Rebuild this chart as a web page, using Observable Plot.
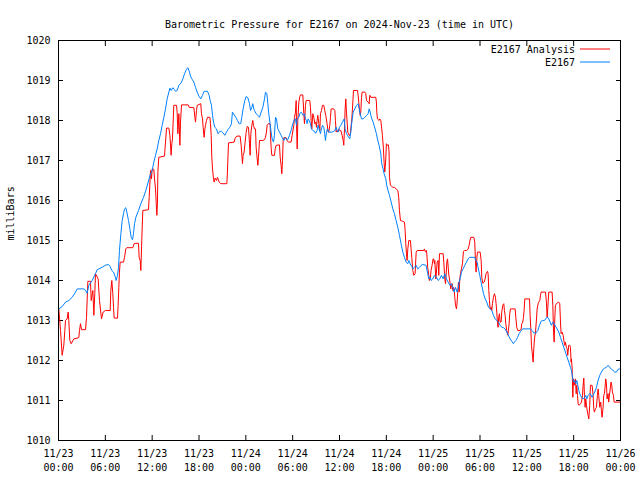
<!DOCTYPE html>
<html><head><meta charset="utf-8">
<script src="https://cdn.jsdelivr.net/npm/d3@7"></script>
<script src="https://cdn.jsdelivr.net/npm/@observablehq/plot@0.6"></script>
<style>
body{margin:0;background:#fff;}
#wrap{position:relative;width:640px;height:480px;}
</style></head><body><div id="wrap"></div>
<script>
const titleText = "Barometric Pressure for E2167 on 2024-Nov-23 (time in UTC)";
const yAxisLabel = "milliBars";
const seriesNames = ["E2167 Analysis", "E2167"];
const seriesColors = ["#ff0000", "#0080ff"];
const yTicks = [1010,1011,1012,1013,1014,1015,1016,1017,1018,1019,1020];
const xTickHours = [0,6,12,18,24,30,36,42,48,54,60,66,72];
const xTickLabels = ["11/23\n00:00","11/23\n06:00","11/23\n12:00","11/23\n18:00","11/24\n00:00","11/24\n06:00","11/24\n12:00","11/24\n18:00","11/25\n00:00","11/25\n06:00","11/25\n12:00","11/25\n18:00","11/26\n00:00"];

// [hours since 2024-11-23 00:00 UTC, millibars]
const analysis = [[0.04,1013.29],[0.26,1012.75],[0.47,1012.13],[0.68,1012.38],[0.81,1012.75],[0.90,1013.00],[1.11,1013.04],[1.24,1013.21],[1.32,1013.00],[1.45,1012.50],[1.62,1012.42],[1.96,1012.54],[2.60,1012.57],[2.69,1012.75],[2.82,1012.92],[2.95,1012.77],[3.46,1012.77],[3.59,1013.08],[3.76,1013.98],[4.10,1013.98],[4.19,1013.50],[4.40,1013.75],[4.53,1013.13],[4.65,1013.67],[4.74,1014.17],[5.08,1014.04],[5.25,1013.50],[5.51,1013.04],[5.72,1013.21],[6.02,1013.25],[6.62,1013.25],[6.70,1013.75],[6.83,1014.00],[6.96,1013.67],[7.05,1013.33],[7.13,1013.06],[7.56,1013.06],[7.64,1013.38],[7.73,1013.83],[7.81,1014.21],[7.90,1014.46],[8.33,1014.46],[8.46,1014.58],[8.62,1014.79],[8.75,1014.82],[9.52,1014.82],[9.69,1014.92],[9.82,1014.93],[10.25,1014.93],[10.33,1014.58],[10.46,1014.50],[10.55,1014.25],[10.68,1015.08],[10.80,1015.75],[11.53,1015.77],[11.62,1016.08],[11.79,1016.75],[11.91,1016.54],[12.00,1016.79],[12.21,1016.78],[12.30,1016.54],[12.43,1016.29],[12.51,1015.96],[12.60,1015.63],[12.68,1015.96],[12.73,1016.71],[12.85,1017.08],[13.58,1017.11],[13.71,1017.46],[13.84,1017.81],[14.14,1017.81],[14.27,1017.63],[14.43,1017.13],[14.52,1017.42],[14.60,1017.54],[14.69,1017.96],[14.77,1018.38],[15.12,1018.38],[15.20,1018.21],[15.29,1017.67],[15.42,1018.17],[15.55,1017.38],[15.63,1017.96],[15.76,1018.39],[16.61,1018.39],[16.74,1018.33],[17.34,1018.32],[17.47,1018.08],[17.55,1017.96],[17.68,1018.25],[17.77,1018.38],[18.23,1018.42],[18.32,1018.17],[18.45,1018.04],[18.53,1017.83],[18.66,1017.58],[18.75,1017.78],[18.83,1017.88],[18.96,1018.00],[19.09,1018.08],[19.39,1018.08],[19.47,1017.92],[19.56,1017.63],[19.64,1017.08],[19.73,1016.79],[19.86,1016.54],[19.94,1016.46],[20.07,1016.56],[20.24,1016.50],[20.37,1016.58],[20.58,1016.46],[20.80,1016.42],[21.57,1016.42],[21.64,1016.71],[21.78,1017.44],[22.50,1017.46],[22.63,1017.56],[22.85,1017.61],[23.27,1017.61],[23.40,1017.38],[23.57,1016.92],[23.65,1017.13],[23.78,1017.21],[23.91,1017.46],[24.04,1017.70],[24.17,1017.85],[24.34,1017.83],[24.47,1017.42],[24.55,1017.13],[24.64,1017.67],[24.77,1017.88],[24.89,1018.00],[24.98,1017.88],[25.11,1017.79],[25.24,1017.79],[25.32,1017.33],[25.41,1017.13],[25.54,1016.88],[25.62,1017.08],[25.75,1017.50],[26.18,1017.50],[26.39,1017.52],[26.52,1017.58],[26.64,1017.71],[26.73,1017.88],[26.90,1017.92],[27.11,1017.92],[27.16,1017.63],[27.24,1017.33],[27.33,1017.13],[27.67,1017.13],[27.76,1017.29],[27.88,1017.38],[28.31,1017.39],[28.40,1017.08],[28.52,1016.88],[28.61,1016.67],[28.70,1017.00],[28.78,1017.50],[28.87,1017.57],[29.16,1017.57],[29.29,1017.50],[29.46,1017.46],[29.80,1017.46],[29.93,1017.63],[30.15,1017.88],[30.23,1018.08],[30.36,1018.21],[30.45,1018.50],[30.49,1017.92],[30.58,1017.29],[30.66,1018.00],[30.79,1018.46],[30.92,1018.60],[31.00,1018.64],[31.30,1018.64],[31.43,1018.17],[31.51,1017.92],[31.64,1018.38],[31.73,1018.50],[32.19,1018.50],[32.28,1018.33],[32.37,1018.00],[32.45,1017.79],[32.58,1018.17],[32.71,1018.08],[32.84,1017.92],[32.97,1017.96],[33.05,1017.83],[33.13,1018.00],[33.22,1018.13],[33.35,1017.92],[33.48,1017.75],[33.56,1018.17],[33.69,1018.25],[33.82,1018.38],[33.99,1018.38],[34.11,1018.25],[34.24,1018.13],[34.41,1017.92],[34.54,1017.71],[34.63,1017.71],[34.76,1017.88],[34.84,1018.08],[34.93,1018.29],[35.27,1018.29],[35.40,1018.25],[35.48,1018.00],[35.57,1017.71],[35.69,1017.75],[35.78,1017.71],[35.91,1017.79],[36.03,1017.75],[36.17,1017.75],[36.34,1017.63],[36.47,1017.50],[36.55,1017.38],[36.64,1017.79],[36.72,1018.29],[36.81,1018.54],[36.89,1018.21],[36.98,1017.96],[37.06,1017.71],[37.15,1017.67],[37.23,1017.63],[37.36,1017.63],[37.45,1017.79],[37.58,1018.04],[37.71,1018.46],[37.79,1018.75],[38.30,1018.75],[38.39,1018.63],[38.47,1018.46],[38.56,1018.29],[38.65,1018.13],[38.73,1018.21],[38.82,1018.58],[38.90,1018.71],[39.24,1018.71],[39.37,1018.67],[39.46,1018.50],[39.67,1018.46],[39.80,1018.42],[39.88,1018.63],[40.01,1018.58],[40.65,1018.58],[40.73,1018.46],[40.78,1018.21],[40.86,1018.04],[41.07,1018.00],[41.16,1018.04],[41.29,1018.00],[41.41,1017.79],[41.50,1017.63],[41.63,1017.29],[41.71,1016.96],[41.80,1016.71],[41.93,1017.04],[42.01,1017.42],[42.14,1017.38],[42.27,1017.39],[42.35,1017.21],[42.40,1016.58],[42.53,1016.38],[42.83,1016.33],[43.04,1016.33],[43.25,1016.29],[43.47,1016.25],[43.59,1016.08],[43.68,1015.75],[43.81,1015.50],[44.11,1015.48],[44.32,1015.46],[44.41,1015.25],[44.49,1014.92],[44.58,1014.67],[44.66,1014.50],[44.75,1014.79],[44.88,1015.00],[45.09,1015.00],[45.17,1014.79],[45.26,1014.58],[45.39,1014.25],[45.52,1014.13],[45.69,1014.17],[45.82,1014.71],[45.95,1014.75],[46.80,1014.75],[46.88,1014.79],[47.01,1014.71],[47.14,1014.75],[47.22,1014.58],[47.30,1014.33],[47.44,1014.13],[47.52,1014.00],[47.65,1014.08],[47.73,1014.25],[47.86,1014.38],[47.99,1014.54],[48.07,1014.54],[48.16,1014.42],[48.21,1014.50],[48.34,1014.04],[48.42,1014.21],[48.51,1014.46],[48.64,1014.50],[48.72,1014.13],[48.81,1014.67],[49.28,1014.67],[49.36,1014.46],[49.49,1014.04],[49.58,1013.92],[49.66,1014.13],[49.75,1014.46],[49.84,1014.54],[50.01,1014.13],[50.09,1014.04],[50.18,1013.92],[50.26,1013.79],[50.34,1013.88],[50.43,1013.92],[50.52,1013.75],[50.60,1013.83],[50.69,1013.79],[50.77,1013.58],[50.86,1013.38],[50.99,1013.29],[51.07,1013.46],[51.16,1013.75],[51.24,1013.96],[51.33,1013.71],[51.41,1014.04],[51.50,1014.17],[51.62,1014.29],[51.75,1014.42],[51.88,1014.73],[52.01,1014.75],[52.27,1014.75],[52.48,1014.78],[52.61,1014.88],[52.69,1014.98],[52.82,1015.08],[53.21,1015.08],[53.33,1014.96],[53.42,1014.46],[53.50,1014.21],[53.59,1014.54],[53.67,1014.71],[54.02,1014.71],[54.15,1014.50],[54.23,1014.08],[54.36,1013.93],[54.53,1013.96],[54.66,1014.04],[54.78,1014.17],[54.96,1014.23],[55.04,1014.17],[55.13,1013.75],[55.21,1013.50],[55.30,1013.29],[55.42,1013.33],[55.51,1013.25],[55.59,1013.42],[55.72,1013.58],[55.85,1013.67],[55.98,1013.58],[56.06,1013.42],[56.15,1013.21],[56.23,1012.96],[56.32,1012.83],[56.40,1013.08],[56.49,1013.17],[56.58,1012.96],[56.70,1012.96],[56.79,1013.21],[56.92,1013.38],[57.05,1013.42],[57.13,1013.25],[57.22,1013.13],[57.30,1012.92],[57.43,1012.75],[57.56,1012.63],[57.64,1012.75],[57.73,1012.92],[57.81,1013.17],[57.90,1013.29],[58.50,1013.29],[58.59,1013.08],[58.71,1012.83],[58.84,1012.75],[59.14,1012.75],[59.27,1012.79],[59.35,1012.92],[59.48,1012.96],[59.57,1013.08],[59.65,1013.25],[59.74,1013.54],[60.34,1013.54],[60.42,1013.13],[60.51,1012.79],[60.59,1012.38],[60.68,1012.21],[60.81,1011.96],[60.89,1012.29],[60.98,1012.54],[61.11,1012.71],[61.24,1013.04],[61.32,1013.29],[61.45,1013.42],[61.53,1013.46],[61.66,1013.50],[61.75,1013.63],[61.83,1013.71],[62.39,1013.71],[62.51,1013.46],[62.60,1013.08],[62.69,1013.33],[62.81,1013.71],[63.24,1013.71],[63.33,1013.38],[63.41,1012.79],[63.50,1012.46],[63.58,1013.04],[63.66,1013.38],[63.88,1013.44],[64.09,1013.46],[64.22,1013.42],[64.31,1012.96],[64.39,1012.67],[64.52,1012.71],[64.65,1012.63],[64.78,1012.46],[64.86,1012.38],[64.94,1012.46],[65.07,1012.33],[65.16,1012.29],[65.24,1012.13],[65.37,1012.38],[65.50,1012.38],[65.59,1012.33],[65.67,1011.96],[65.72,1012.04],[65.81,1011.79],[65.89,1011.08],[65.98,1011.54],[66.06,1011.38],[66.14,1011.46],[66.23,1011.54],[66.32,1011.17],[66.40,1011.38],[66.49,1011.13],[66.57,1010.92],[66.70,1010.88],[66.87,1010.92],[67.00,1010.96],[67.13,1011.13],[67.21,1011.38],[67.30,1011.56],[67.38,1011.13],[67.47,1010.83],[67.55,1011.04],[67.64,1010.88],[67.77,1010.71],[67.85,1010.63],[67.94,1010.54],[68.06,1010.88],[68.15,1011.38],[68.36,1011.38],[68.49,1011.13],[68.58,1010.79],[68.66,1010.71],[68.79,1010.79],[68.92,1010.83],[69.04,1011.13],[69.13,1011.29],[69.21,1011.13],[69.34,1010.83],[69.47,1010.96],[69.55,1010.75],[69.64,1010.58],[69.77,1010.83],[69.85,1011.13],[69.94,1011.17],[70.02,1011.33],[70.11,1011.54],[70.20,1011.42],[70.28,1011.04],[70.41,1011.17],[70.49,1010.96],[70.58,1011.13],[70.71,1011.33],[70.79,1011.46],[70.88,1011.38],[70.96,1011.21],[71.09,1011.13],[71.18,1010.96],[72.00,1010.96]];

const station = [[0.04,1013.29],[0.47,1013.35],[0.90,1013.46],[1.32,1013.50],[1.75,1013.58],[2.18,1013.71],[2.39,1013.79],[3.25,1013.79],[3.46,1013.76],[3.67,1013.68],[3.89,1013.88],[4.31,1014.00],[4.74,1014.17],[4.95,1014.27],[5.59,1014.33],[5.98,1014.38],[6.40,1014.40],[6.62,1014.35],[6.83,1014.25],[7.05,1014.21],[7.26,1014.10],[7.39,1014.00],[7.56,1014.13],[7.69,1014.33],[7.81,1014.75],[7.99,1015.17],[8.16,1015.50],[8.33,1015.67],[8.46,1015.79],[8.62,1015.82],[8.75,1015.71],[8.97,1015.50],[9.18,1015.25],[9.31,1015.08],[9.48,1015.02],[9.61,1015.17],[9.74,1015.42],[9.91,1015.58],[10.25,1015.75],[10.55,1015.92],[10.89,1016.08],[11.19,1016.25],[11.79,1016.67],[12.00,1016.75],[12.21,1016.96],[12.43,1017.13],[12.64,1017.29],[12.85,1017.50],[13.07,1017.67],[13.28,1017.88],[13.50,1018.08],[13.71,1018.29],[13.92,1018.54],[14.14,1018.71],[14.27,1018.81],[14.43,1018.75],[14.65,1018.82],[14.86,1018.77],[14.99,1018.73],[15.20,1018.75],[15.42,1018.88],[15.72,1018.94],[15.93,1019.04],[16.15,1019.17],[16.40,1019.28],[16.57,1019.32],[16.78,1019.21],[16.91,1019.11],[17.12,1019.03],[17.34,1018.96],[17.55,1018.83],[17.77,1018.71],[17.98,1018.61],[18.23,1018.54],[18.45,1018.63],[18.66,1018.73],[19.09,1018.73],[19.30,1018.63],[19.43,1018.50],[19.60,1018.38],[19.73,1018.13],[19.86,1017.96],[20.03,1017.83],[20.24,1017.79],[20.45,1017.67],[20.67,1017.73],[20.88,1017.73],[21.09,1017.69],[21.31,1017.63],[21.52,1017.71],[21.74,1017.78],[21.95,1017.83],[22.16,1017.92],[22.28,1018.21],[22.50,1018.14],[22.71,1018.08],[22.93,1018.00],[23.14,1017.92],[23.35,1017.92],[23.48,1018.08],[23.65,1018.29],[23.87,1018.50],[24.04,1018.60],[24.26,1018.57],[24.47,1018.42],[24.60,1018.25],[24.77,1018.33],[24.89,1018.42],[25.02,1018.29],[25.11,1018.25],[25.32,1018.17],[25.54,1018.13],[25.75,1018.08],[25.96,1018.21],[26.18,1018.33],[26.39,1018.54],[26.52,1018.71],[26.69,1018.67],[26.82,1018.42],[26.94,1018.17],[27.11,1017.92],[27.24,1017.71],[27.37,1017.54],[27.54,1017.46],[27.67,1017.63],[27.80,1018.08],[27.93,1018.04],[28.10,1017.79],[28.31,1017.71],[28.52,1017.63],[28.74,1017.54],[28.87,1017.50],[29.04,1017.57],[29.16,1017.54],[29.38,1017.52],[29.59,1017.63],[29.80,1017.75],[30.02,1017.92],[30.15,1018.00],[30.36,1018.04],[30.49,1017.88],[30.58,1018.04],[30.79,1018.08],[30.92,1018.17],[31.09,1018.21],[31.22,1018.17],[31.34,1018.13],[31.51,1018.17],[31.64,1018.04],[31.77,1018.00],[31.85,1017.92],[31.98,1018.04],[32.11,1018.00],[32.28,1017.92],[32.41,1017.79],[32.58,1017.75],[32.80,1017.73],[32.92,1017.68],[33.13,1017.75],[33.26,1017.88],[33.39,1017.79],[33.56,1017.67],[33.69,1017.79],[33.82,1017.88],[33.99,1017.83],[34.11,1017.67],[34.20,1017.50],[34.33,1017.71],[34.46,1017.79],[34.63,1017.71],[35.06,1017.71],[35.40,1017.75],[35.57,1017.83],[35.69,1017.75],[35.82,1017.71],[35.99,1017.83],[36.17,1017.88],[36.38,1017.96],[36.60,1018.04],[36.72,1017.79],[36.89,1017.67],[37.02,1017.63],[37.15,1017.58],[37.32,1017.54],[37.45,1017.71],[37.58,1017.96],[37.75,1018.21],[37.96,1018.29],[38.18,1018.38],[38.39,1018.42],[38.52,1018.29],[38.65,1018.17],[38.82,1018.04],[39.03,1018.04],[39.24,1018.08],[39.50,1018.13],[39.67,1018.17],[39.80,1018.29],[39.93,1018.21],[40.01,1018.13],[40.14,1018.04],[40.31,1017.96],[40.43,1017.88],[40.56,1017.79],[40.73,1017.67],[40.86,1017.54],[41.07,1017.38],[41.29,1017.17],[41.41,1016.92],[41.59,1016.79],[41.71,1016.67],[41.93,1016.54],[42.05,1016.38],[42.22,1016.25],[42.40,1016.13],[42.62,1015.96],[42.83,1015.79],[43.04,1015.67],[43.25,1015.50],[43.47,1015.33],[43.68,1015.13],[43.89,1014.92],[44.11,1014.71],[44.32,1014.58],[44.54,1014.46],[44.75,1014.42],[44.88,1014.50],[45.05,1014.42],[45.26,1014.35],[45.39,1014.29],[45.60,1014.33],[45.82,1014.38],[46.03,1014.29],[46.24,1014.33],[46.45,1014.38],[46.67,1014.40],[47.09,1014.38],[47.30,1014.17],[47.44,1014.04],[47.61,1014.08],[47.73,1014.00],[47.95,1014.04],[48.16,1014.13],[48.42,1014.08],[48.64,1014.00],[48.85,1014.04],[49.06,1014.13],[49.28,1014.04],[49.49,1014.17],[49.70,1014.04],[49.92,1013.96],[50.13,1013.88],[50.34,1013.92],[50.56,1013.79],[50.69,1013.71],[50.86,1013.83],[51.07,1013.71],[51.20,1013.79],[51.33,1013.96],[51.50,1014.08],[51.62,1014.21],[51.84,1014.29],[52.05,1014.38],[52.27,1014.46],[52.48,1014.54],[52.69,1014.58],[53.33,1014.58],[53.46,1014.50],[53.63,1014.46],[53.75,1014.33],[53.97,1014.13],[54.18,1013.92],[54.45,1013.67],[54.66,1013.54],[54.87,1013.46],[55.09,1013.33],[55.30,1013.29],[55.51,1013.25],[55.72,1013.13],[55.94,1013.04],[56.15,1013.00],[56.37,1012.96],[56.58,1012.88],[56.79,1012.83],[57.01,1012.82],[57.22,1012.79],[57.43,1012.71],[57.64,1012.63],[57.86,1012.54],[58.07,1012.48],[58.28,1012.42],[58.41,1012.46],[58.59,1012.50],[58.80,1012.57],[59.01,1012.67],[59.22,1012.73],[59.44,1012.79],[60.47,1012.79],[60.68,1012.75],[60.89,1012.69],[61.19,1012.69],[61.41,1012.75],[61.62,1012.88],[61.83,1012.98],[62.05,1013.00],[62.26,1013.00],[62.47,1013.06],[62.69,1013.08],[62.81,1013.04],[62.98,1012.96],[63.15,1012.88],[63.33,1012.96],[63.50,1012.92],[63.66,1012.86],[63.88,1012.79],[64.09,1012.71],[64.31,1012.58],[64.52,1012.46],[64.73,1012.33],[64.94,1012.21],[65.16,1012.08],[65.37,1011.96],[65.59,1011.83],[65.72,1011.75],[65.85,1011.58],[65.98,1011.46],[66.14,1011.50],[66.27,1011.42],[66.40,1011.50],[66.53,1011.38],[66.66,1011.25],[66.78,1011.17],[67.00,1011.08],[67.21,1011.04],[67.42,1011.08],[67.55,1011.13],[67.68,1011.04],[67.85,1011.13],[68.06,1011.17],[68.19,1011.15],[68.36,1011.08],[68.49,1011.13],[68.70,1011.21],[68.92,1011.33],[69.13,1011.50],[69.34,1011.63],[69.55,1011.71],[69.77,1011.78],[69.98,1011.81],[70.20,1011.83],[70.41,1011.88],[70.62,1011.83],[70.83,1011.78],[71.05,1011.75],[71.26,1011.71],[71.47,1011.71],[71.69,1011.78],[71.90,1011.79],[72.00,1011.80]];

const rows = [
  ...analysis.map(([h, v]) => ({series: seriesNames[0], h, v})),
  ...station.map(([h, v]) => ({series: seriesNames[1], h, v}))
];
const fmtX = d => xTickLabels[xTickHours.indexOf(d)];
const font = "'DejaVu Sans Mono', 'Liberation Mono', monospace";

const chart = Plot.plot({
  width: 640, height: 480,
  marginLeft: 58, marginRight: 20, marginTop: 40, marginBottom: 40,
  style: {fontFamily: font, fontSize: "10px", background: "#fff", color: "#000"},
  x: {domain: [0, 72]},
  y: {domain: [1010, 1020]},
  color: {domain: seriesNames, range: seriesColors},
  marks: [
    Plot.axisX({ticks: xTickHours, tickFormat: fmtX, tickSize: -5, tickPadding: 12, lineHeight: 1.4, label: null}),
    Plot.axisX({anchor: "top", ticks: xTickHours, tickSize: -5, tickFormat: () => "", label: null}),
    Plot.axisY({ticks: yTicks, tickFormat: d => String(d), tickSize: -5, tickPadding: 13, label: null}),
    Plot.axisY({anchor: "right", ticks: yTicks, tickSize: -5, tickFormat: () => "", label: null}),
    Plot.line(rows, {x: "h", y: "v", z: "series", stroke: "series", strokeWidth: 1, curve: "linear"}),
    Plot.frame({stroke: "#000"}),
    Plot.text([titleText], {frameAnchor: "top", dy: -20, fontSize: 10}),
    Plot.text([yAxisLabel], {frameAnchor: "left", rotate: -90, dx: -48, fontSize: 10})
  ]
});
document.getElementById("wrap").appendChild(chart);

// legend (top-right, inside the frame)
const svg = d3.select(chart);
const lg = svg.append("g").attr("font-family", font).attr("font-size", 10);
seriesNames.forEach((name, i) => {
  const y = 49 + i * 13;
  lg.append("text").attr("x", 575).attr("y", y).attr("dy", "0.35em")
    .attr("text-anchor", "end").attr("fill", "#000").text(name);
  lg.append("line").attr("x1", 580).attr("x2", 610).attr("y1", y).attr("y2", y)
    .attr("stroke", seriesColors[i]).attr("stroke-width", 1);
});
</script>
</body></html>
